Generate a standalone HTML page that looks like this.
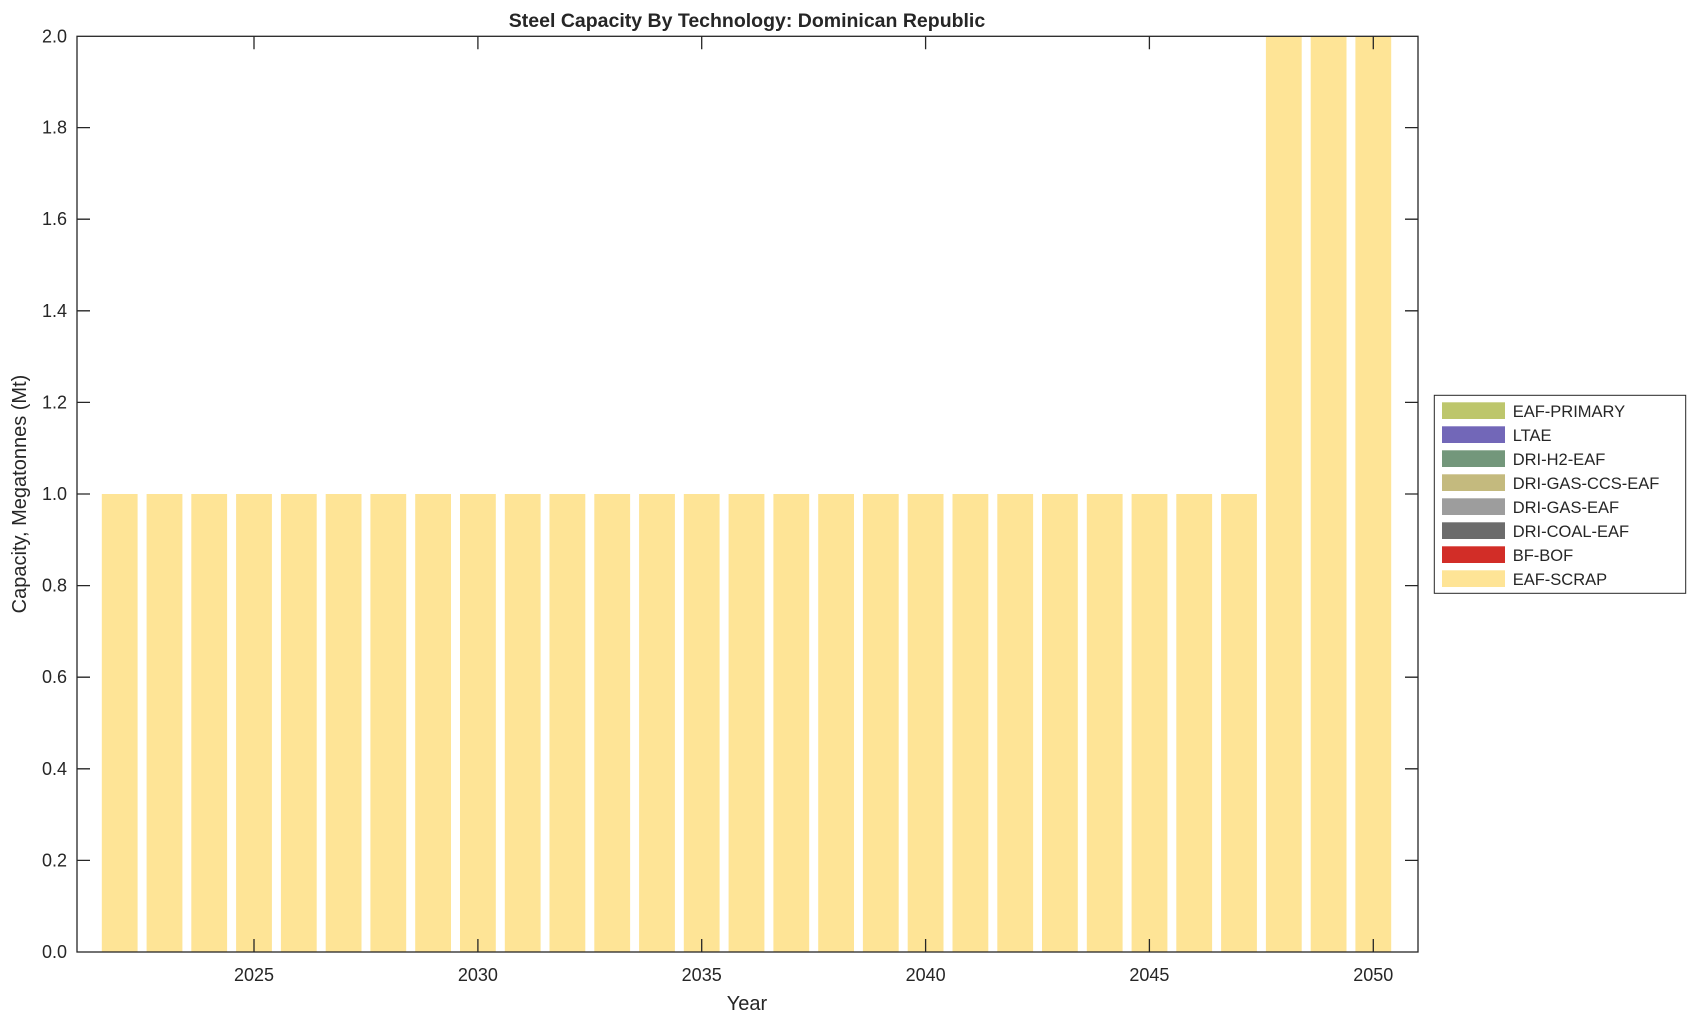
<!DOCTYPE html>
<html><head><meta charset="utf-8"><style>body{margin:0;background:#fff}svg{display:block}text{font-family:"Liberation Sans",Arial,sans-serif;fill:#262626}</style></head>
<body>
<svg width="1696" height="1021" xmlns="http://www.w3.org/2000/svg">
<g fill="#FEE496">
<rect x="101.8" y="494" width="35.8" height="458"/>
<rect x="146.6" y="494" width="35.8" height="458"/>
<rect x="191.3" y="494" width="35.8" height="458"/>
<rect x="236.1" y="494" width="35.8" height="458"/>
<rect x="280.9" y="494" width="35.8" height="458"/>
<rect x="325.7" y="494" width="35.8" height="458"/>
<rect x="370.4" y="494" width="35.8" height="458"/>
<rect x="415.2" y="494" width="35.8" height="458"/>
<rect x="460.0" y="494" width="35.8" height="458"/>
<rect x="504.8" y="494" width="35.8" height="458"/>
<rect x="549.5" y="494" width="35.8" height="458"/>
<rect x="594.3" y="494" width="35.8" height="458"/>
<rect x="639.1" y="494" width="35.8" height="458"/>
<rect x="683.8" y="494" width="35.8" height="458"/>
<rect x="728.6" y="494" width="35.8" height="458"/>
<rect x="773.4" y="494" width="35.8" height="458"/>
<rect x="818.2" y="494" width="35.8" height="458"/>
<rect x="862.9" y="494" width="35.8" height="458"/>
<rect x="907.7" y="494" width="35.8" height="458"/>
<rect x="952.5" y="494" width="35.8" height="458"/>
<rect x="997.3" y="494" width="35.8" height="458"/>
<rect x="1042.0" y="494" width="35.8" height="458"/>
<rect x="1086.8" y="494" width="35.8" height="458"/>
<rect x="1131.6" y="494" width="35.8" height="458"/>
<rect x="1176.3" y="494" width="35.8" height="458"/>
<rect x="1221.1" y="494" width="35.8" height="458"/>
<rect x="1265.9" y="36.3" width="35.8" height="915.7"/>
<rect x="1310.7" y="36.3" width="35.8" height="915.7"/>
<rect x="1355.4" y="36.3" width="35.8" height="915.7"/>
</g>
<g stroke="#262626" stroke-width="1.3" fill="none">
<rect x="77" y="36.3" width="1341" height="915.7"/>
<path d="M254 952v-13M254 36.3v13M477.9 952v-13M477.9 36.3v13M701.7 952v-13M701.7 36.3v13M925.6 952v-13M925.6 36.3v13M1149.4 952v-13M1149.4 36.3v13M1373.3 952v-13M1373.3 36.3v13"/>
<path d="M77 860.4h13M1418 860.4h-13M77 768.8h13M1418 768.8h-13M77 677.2h13M1418 677.2h-13M77 585.6h13M1418 585.6h-13M77 494h13M1418 494h-13M77 402.4h13M1418 402.4h-13M77 310.8h13M1418 310.8h-13M77 219.2h13M1418 219.2h-13M77 127.6h13M1418 127.6h-13"/>
</g>
<g font-size="18" text-anchor="end">
<text x="67" y="958">0.0</text><text x="67" y="866.4">0.2</text><text x="67" y="774.8">0.4</text><text x="67" y="683.2">0.6</text><text x="67" y="591.6">0.8</text><text x="67" y="500">1.0</text><text x="67" y="408.4">1.2</text><text x="67" y="316.8">1.4</text><text x="67" y="225.2">1.6</text><text x="67" y="133.6">1.8</text><text x="67" y="42.3">2.0</text>
</g>
<g font-size="18" text-anchor="middle">
<text x="254" y="981">2025</text><text x="477.9" y="981">2030</text><text x="701.7" y="981">2035</text><text x="925.6" y="981">2040</text><text x="1149.4" y="981">2045</text><text x="1373.3" y="981">2050</text>
<text x="747" y="1010" font-size="20">Year</text>
<text x="747" y="27" font-size="19.5" font-weight="bold" fill="#000">Steel Capacity By Technology: Dominican Republic</text>
<text transform="translate(26,494) rotate(-90)" font-size="20">Capacity, Megatonnes (Mt)</text>
</g>
<rect x="1434.3" y="395.3" width="251.4" height="198" fill="#fff" stroke="#262626" stroke-width="1"/>
<g font-size="16.5">
<rect x="1442" y="402.3" width="63" height="16.7" fill="#BDC66C"/><text x="1512.7" y="417">EAF-PRIMARY</text>
<rect x="1442" y="426.3" width="63" height="16.7" fill="#7267B8"/><text x="1512.7" y="441">LTAE</text>
<rect x="1442" y="450.3" width="63" height="16.7" fill="#73977B"/><text x="1512.7" y="465">DRI-H2-EAF</text>
<rect x="1442" y="474.3" width="63" height="16.7" fill="#C4BA7E"/><text x="1512.7" y="489">DRI-GAS-CCS-EAF</text>
<rect x="1442" y="498.3" width="63" height="16.7" fill="#9D9D9D"/><text x="1512.7" y="513">DRI-GAS-EAF</text>
<rect x="1442" y="522.3" width="63" height="16.7" fill="#6C6C6C"/><text x="1512.7" y="537">DRI-COAL-EAF</text>
<rect x="1442" y="546.3" width="63" height="16.7" fill="#D22D27"/><text x="1512.7" y="561">BF-BOF</text>
<rect x="1442" y="570.3" width="63" height="16.7" fill="#FEE496"/><text x="1512.7" y="585">EAF-SCRAP</text>
</g>
</svg>
</body></html>
